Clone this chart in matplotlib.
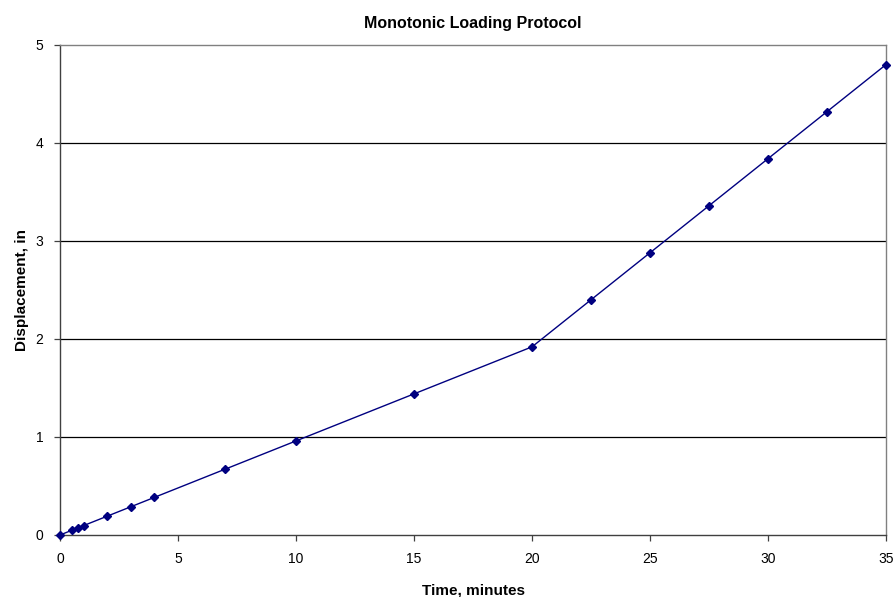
import matplotlib.pyplot as plt

plt.rcParams['font.family'] = ['Liberation Sans', 'DejaVu Sans']

# time (minutes) and displacement (in)
time_min = [0, 0.5, 0.75, 1, 2, 3, 4, 7, 10, 15, 20, 22.5, 25, 27.5, 30, 32.5, 35]
disp_in = [0, 0.048, 0.072, 0.096, 0.192, 0.288, 0.384, 0.672, 0.96, 1.44, 1.92,
           2.40, 2.88, 3.36, 3.84, 4.32, 4.80]

fig = plt.figure(figsize=(8.96, 5.97), dpi=100)
ax = fig.add_axes([60 / 896, 1 - 535 / 597, 826 / 896, 490 / 597])

ax.plot(time_min, disp_in, color='#000080', lw=1.0, marker='D', ms=4.5,
        mec='#000080', mfc='#000080', zorder=3, clip_on=False)

ax.set_xlim(0, 35)
ax.set_ylim(0, 5)
ax.set_xticks(range(0, 36, 5))
ax.set_yticks(range(0, 6))
for y in range(1, 5):
    ax.axhline(y, color='black', lw=0.9, zorder=1)

for s in ['top', 'right']:
    ax.spines[s].set_color('#808080')
for s in ['left', 'bottom']:
    ax.spines[s].set_color('#404040')
for s in ax.spines.values():
    s.set_linewidth(1.0)

ax.tick_params(direction='out', length=4, width=0.9, labelsize=10, pad=8,
               colors='#404040', labelcolor='black')

ax.set_title('Monotonic Loading Protocol', fontsize=11.5, fontweight='bold', pad=12)
ax.set_xlabel('Time, minutes', fontsize=11, fontweight='bold', labelpad=13)
ax.set_ylabel('Displacement, in', fontsize=11, fontweight='bold', labelpad=5)

fig.savefig('out.png', dpi=100)
